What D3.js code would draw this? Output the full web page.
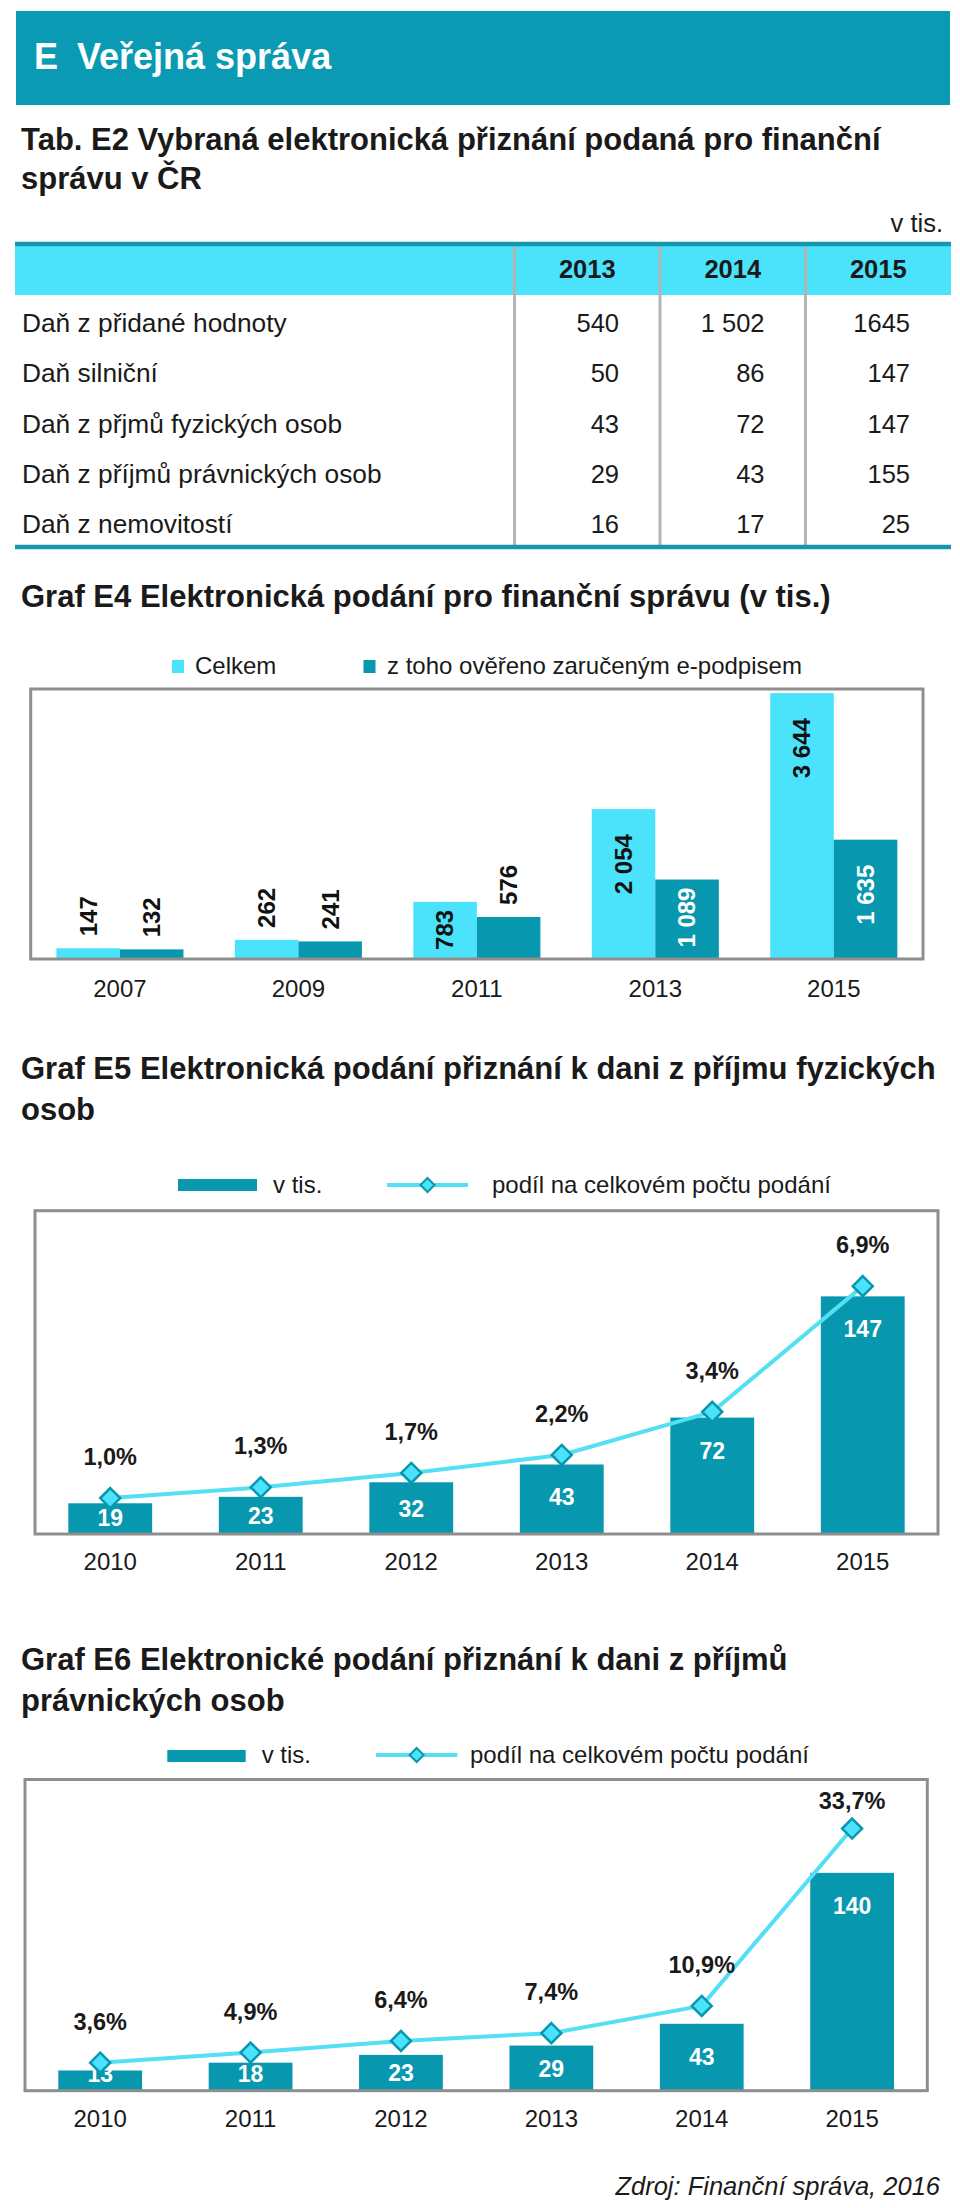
<!DOCTYPE html>
<html><head><meta charset="utf-8">
<script src="https://cdn.jsdelivr.net/npm/d3@7"></script>
<style>
body{margin:0;background:#fff}
svg{display:block}
text{font-family:"Liberation Sans",Arial,Helvetica,sans-serif}
</style>
</head><body>
<svg id="c" width="960" height="2208"></svg>
<script>
// ---------- DATA ----------
const tableYears = ["2013", "2014", "2015"];
const tableRows = ["Daň z přidané hodnoty", "Daň silniční", "Daň z přjmů fyzických osob", "Daň z příjmů právnických osob", "Daň z nemovitostí"];
const tableVat = ["540", "1 502", "1645"];
const tableRoad = ["50", "86", "147"];
const tablePit = ["43", "72", "147"];
const tableCit = ["29", "43", "155"];
const tableProperty = ["16", "17", "25"];

const e4Years = ["2007", "2009", "2011", "2013", "2015"];
const e4Total = [147, 262, 783, 2054, 3644];
const e4Signed = [132, 241, 576, 1089, 1635];
const e4Series = ["Celkem", "z toho ověřeno zaručeným e-podpisem"];

const comboYears = ["2010", "2011", "2012", "2013", "2014", "2015"];
const e5Count = [19, 23, 32, 43, 72, 147];
const e5Share = [1.0, 1.3, 1.7, 2.2, 3.4, 6.9];
const e6Count = [13, 18, 23, 29, 43, 140];
const e6Share = [3.6, 4.9, 6.4, 7.4, 10.9, 33.7];
const comboSeries = ["v tis.", "podíl na celkovém počtu podání"];

// ---------- STYLE ----------
const TEAL = "#0a9ab3", DARK = "#0797ae", LIGHT = "#4be3fc", LINE = "#55dff4",
      FRAME = "#8e8e8e", INK = "#1a1a1a", SEP = "#b4b4b4";
const cz = d3.formatLocale({decimal: ",", thousands: " ", grouping: [3], currency: ["", ""]});
const fmtInt = cz.format(",d");
const fmtPct = v => cz.format(".1f")(v) + "%";

const svg = d3.select("#c");
svg.append("rect").attr("width", 960).attr("height", 2208).attr("fill", "#fff");

function txt(g, x, y, s, size, opts = {}) {
  return g.append("text").attr("x", x).attr("y", y).text(s)
    .attr("font-size", size)
    .attr("font-weight", opts.bold ? "bold" : "normal")
    .attr("font-style", opts.italic ? "italic" : "normal")
    .attr("text-anchor", opts.anchor || "start")
    .attr("fill", opts.fill || INK);
}

// ---------- HEADER ----------
svg.append("rect").attr("x", 16).attr("y", 11).attr("width", 934).attr("height", 94).attr("fill", TEAL);
txt(svg, 34, 69, "E", 36, {bold: true, fill: "#fff"});
txt(svg, 77, 69, "Veřejná správa", 36, {bold: true, fill: "#fff"});

// ---------- TABLE ----------
txt(svg, 21, 150, "Tab. E2 Vybraná elektronická přiznání podaná pro finanční", 31, {bold: true});
txt(svg, 21, 189, "správu v ČR", 31, {bold: true});
txt(svg, 943, 232, "v tis.", 25.5, {anchor: "end"});

const tableValues = [tableVat, tableRoad, tablePit, tableCit, tableProperty];
const colX = d3.scaleBand().domain(tableYears).range([514.5, 951]);
const rowY = d3.scalePoint().domain(tableRows).range([332, 533.3]);
const tg = svg.append("g");
tg.append("rect").attr("x", 15).attr("y", 246).attr("width", 936).attr("height", 49).attr("fill", LIGHT);
tg.selectAll("line.sep").data(tableYears.map(y => colX(y)))
  .join("line").attr("class", "sep")
  .attr("x1", d => d).attr("x2", d => d).attr("y1", 244).attr("y2", 547)
  .attr("stroke", SEP).attr("stroke-width", 3);
tg.append("line").attr("x1", 15).attr("x2", 951).attr("y1", 244).attr("y2", 244).attr("stroke", "#1697ad").attr("stroke-width", 4.3);
tg.append("line").attr("x1", 15).attr("x2", 951).attr("y1", 547).attr("y2", 547).attr("stroke", "#1697ad").attr("stroke-width", 4.3);
tableYears.forEach(y => txt(tg, colX(y) + colX.bandwidth() / 2, 278, y, 25.5, {bold: true, anchor: "middle"}));
tableRows.forEach((r, i) => {
  txt(tg, 22, rowY(r), r, 26.3);
  tableYears.forEach((y, j) => txt(tg, colX(y) + colX.bandwidth() - 41, rowY(r), tableValues[i][j], 25.5, {anchor: "end"}));
});

// ---------- GRAF E4 ----------
txt(svg, 21, 607, "Graf E4 Elektronická podání pro finanční správu (v tis.)", 31, {bold: true});
(function () {
  const g = svg.append("g");
  const L = 30.7, R = 923, T = 689, B = 959;
  // legend
  [[172, 195, LIGHT], [363.5, 387, DARK]].forEach((p, i) => {
    g.append("rect").attr("x", p[0]).attr("y", 660).attr("width", 12).attr("height", 13).attr("fill", p[2]);
    txt(g, p[1], 674, e4Series[i], 24);
  });
  const x0 = d3.scaleBand().domain(e4Years).range([L, R]).paddingInner(0.288).paddingOuter(0.144);
  const x1 = d3.scaleBand().domain([0, 1]).range([0, x0.bandwidth()]);
  const y = d3.scaleLinear().domain([0, 3700]).range([B, T]);
  const data = [];
  e4Years.forEach((yr, i) => {
    data.push({yr, k: 0, v: e4Total[i]});
    data.push({yr, k: 1, v: e4Signed[i]});
  });
  g.selectAll("rect.bar").data(data).join("rect").attr("class", "bar")
    .attr("x", d => x0(d.yr) + x1(d.k)).attr("width", x1.bandwidth())
    .attr("y", d => y(d.v)).attr("height", d => B - y(d.v))
    .attr("fill", d => d.k === 0 ? LIGHT : DARK);
  // labels (rotated)
  data.forEach(d => {
    const cx = x0(d.yr) + x1(d.k) + x1.bandwidth() / 2;
    const top = y(d.v), h = B - top;
    const inside = d.v >= 600;
    const ly = inside ? top + (h > 100 ? 25 : 8) : top - 12;
    g.append("text").text(fmtInt(d.v))
      .attr("transform", `translate(${cx},${ly}) rotate(-90)`)
      .attr("dy", "0.35em")
      .attr("text-anchor", inside ? "end" : "start")
      .attr("font-size", 24).attr("font-weight", "bold")
      .attr("fill", inside && d.k === 1 ? "#fff" : "#111");
  });
  g.append("rect").attr("x", L).attr("y", T).attr("width", R - L).attr("height", B - T)
    .attr("fill", "none").attr("stroke", FRAME).attr("stroke-width", 3);
  const ax = g.append("g").attr("transform", `translate(0,${B})`)
    .call(d3.axisBottom(x0).tickSize(0).tickPadding(21));
  ax.select(".domain").remove();
  ax.selectAll("text").attr("font-size", 24).attr("fill", INK)
    .attr("font-family", '"Liberation Sans",Arial,sans-serif');
})();

// ---------- COMBO CHARTS (E5, E6) ----------
function combo(cfg) {
  const g = svg.append("g");
  const {L, R, T, B, counts, shares, shareMax, leg} = cfg;
  // legend
  g.append("rect").attr("x", leg.rx).attr("y", leg.ry).attr("width", leg.rw).attr("height", 12).attr("fill", DARK);
  txt(g, leg.tx1, leg.ty, comboSeries[0], 24);
  g.append("line").attr("x1", leg.lx1).attr("x2", leg.lx2).attr("y1", leg.ly).attr("y2", leg.ly)
    .attr("stroke", LINE).attr("stroke-width", 4);
  const dl = 7;
  g.append("path").attr("d", `M0,${-dl}L${dl},0L0,${dl}L${-dl},0Z`)
    .attr("transform", `translate(${(leg.lx1 + leg.lx2) / 2},${leg.ly})`)
    .attr("fill", LIGHT).attr("stroke", DARK).attr("stroke-width", 2);
  txt(g, leg.tx2, leg.ty, comboSeries[1], 24);

  const x = d3.scaleBand().domain(comboYears).range([L, R]).paddingInner(0.443).paddingOuter(0.2215);
  const yb = d3.scaleLinear().domain([0, 200]).range([B, T]);
  const yl = d3.scaleLinear().domain([0, shareMax]).range([B, T]);
  const cx = yr => x(yr) + x.bandwidth() / 2;
  const rows = comboYears.map((yr, i) => ({yr, c: counts[i], s: shares[i]}));

  g.selectAll("rect.bar").data(rows).join("rect").attr("class", "bar")
    .attr("x", d => x(d.yr)).attr("width", x.bandwidth())
    .attr("y", d => yb(d.c)).attr("height", d => B - yb(d.c)).attr("fill", DARK);
  g.selectAll("text.bl").data(rows).join("text").attr("class", "bl")
    .attr("x", d => cx(d.yr))
    .attr("y", d => {
      const top = yb(d.c);
      return Math.min((top + B) / 2 + 8.5, top + 41, B - 8.5);
    })
    .attr("text-anchor", "middle").attr("font-size", 23).attr("font-weight", "bold")
    .attr("fill", "#fff").text(d => fmtInt(d.c));

  g.append("path").datum(rows)
    .attr("d", d3.line().x(d => cx(d.yr)).y(d => yl(d.s)))
    .attr("fill", "none").attr("stroke", LINE).attr("stroke-width", 4).attr("stroke-linejoin", "round");
  const dm = 10;
  g.selectAll("path.dm").data(rows).join("path").attr("class", "dm")
    .attr("d", `M0,${-dm}L${dm},0L0,${dm}L${-dm},0Z`)
    .attr("transform", d => `translate(${cx(d.yr)},${yl(d.s)})`)
    .attr("fill", LIGHT).attr("stroke", DARK).attr("stroke-width", 2.5);
  g.selectAll("text.pl").data(rows).join("text").attr("class", "pl")
    .attr("x", d => cx(d.yr))
    .attr("y", d => Math.max(yl(d.s) - 33, T + 29))
    .attr("text-anchor", "middle").attr("font-size", 23.5).attr("font-weight", "bold")
    .attr("fill", INK).text(d => fmtPct(d.s));

  g.append("rect").attr("x", L).attr("y", T).attr("width", R - L).attr("height", B - T)
    .attr("fill", "none").attr("stroke", FRAME).attr("stroke-width", 3);
  const ax = g.append("g").attr("transform", `translate(0,${B})`)
    .call(d3.axisBottom(x).tickSize(0).tickPadding(19));
  ax.select(".domain").remove();
  ax.selectAll("text").attr("font-size", 24).attr("fill", INK)
    .attr("font-family", '"Liberation Sans",Arial,sans-serif');
}

txt(svg, 21, 1079, "Graf E5 Elektronická podání přiznání k dani z příjmu fyzických", 31, {bold: true});
txt(svg, 21, 1120, "osob", 31, {bold: true});
combo({L: 35, R: 938, T: 1210.7, B: 1534, counts: e5Count, shares: e5Share, shareMax: 9,
  leg: {rx: 178, ry: 1179, rw: 79, tx1: 273, ty: 1193, lx1: 387, lx2: 468, ly: 1185, tx2: 492}});

txt(svg, 21, 1670, "Graf E6 Elektronické podání přiznání k dani z příjmů", 31, {bold: true});
txt(svg, 21, 1710.5, "právnických osob", 31, {bold: true});
combo({L: 25, R: 927.3, T: 1779.5, B: 2090.7, counts: e6Count, shares: e6Share, shareMax: 40,
  leg: {rx: 167.3, ry: 1750, rw: 78.4, tx1: 261.7, ty: 1763, lx1: 376, lx2: 457.3, ly: 1755, tx2: 470}});

txt(svg, 940, 2195, "Zdroj: Finanční správa, 2016", 25.5, {italic: true, anchor: "end"});
</script>
</body></html>
